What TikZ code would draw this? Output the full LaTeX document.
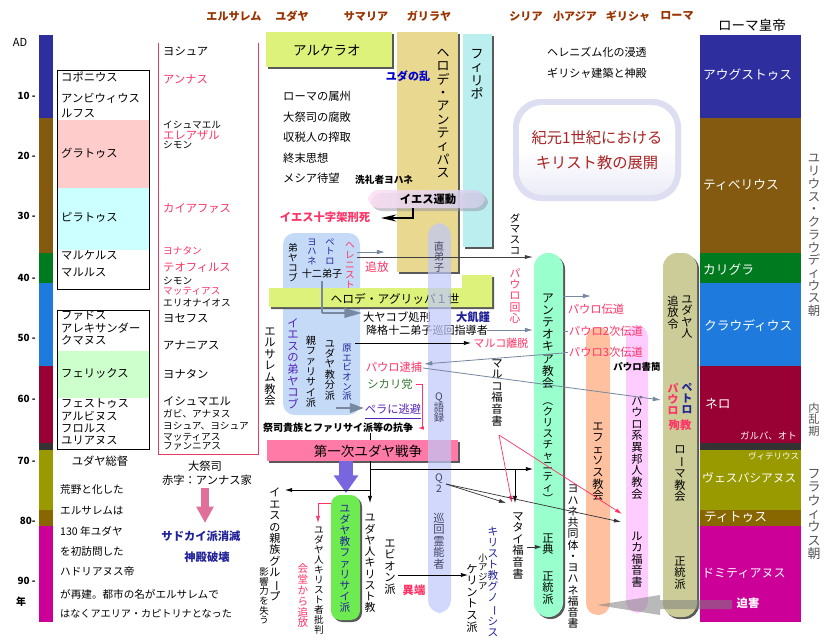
\documentclass[tikz,border=0pt]{standalone}
\usepackage{fontspec}
\setmainfont{Noto Sans CJK JP}
\usepackage{graphicx}
\usetikzlibrary{arrows.meta, shadows}
\definecolor{hdrbrown}{RGB}{153,51,0}
\definecolor{augblue}{RGB}{46,46,158}
\definecolor{tibbrown}{RGB}{131,90,15}
\definecolor{caligreen}{RGB}{0,122,30}
\definecolor{claublue}{RGB}{30,122,220}
\definecolor{nerored}{RGB}{153,0,51}
\definecolor{civilgray}{RGB}{51,51,51}
\definecolor{vespolive}{RGB}{153,153,0}
\definecolor{titbrown}{RGB}{136,102,0}
\definecolor{domimag}{RGB}{204,0,153}
\definecolor{prefpink}{RGB}{255,204,204}
\definecolor{prefcyan}{RGB}{204,255,255}
\definecolor{prefgreen}{RGB}{204,255,204}
\definecolor{priestline}{RGB}{230,60,100}
\definecolor{namered}{RGB}{255,51,102}
\definecolor{limebox}{RGB}{221,242,122}
\definecolor{khakibox}{RGB}{232,216,144}
\definecolor{philcyan}{RGB}{187,238,238}
\definecolor{discblue}{RGB}{196,218,246}
\definecolor{qblue}{RGB}{190,200,250}
\definecolor{antgreen}{RGB}{153,255,204}
\definecolor{ephsalmon}{RGB}{255,192,160}
\definecolor{paulpink}{RGB}{255,204,255}
\definecolor{romekhaki}{RGB}{204,204,153}
\definecolor{pharigreen}{RGB}{110,235,80}
\definecolor{warpink}{RGB}{255,122,166}
\definecolor{warviolet}{RGB}{119,102,221}
\definecolor{navytx}{RGB}{34,34,153}
\definecolor{purpletx}{RGB}{85,34,187}
\definecolor{sicgreen}{RGB}{51,119,51}
\definecolor{qtext}{RGB}{68,68,102}
\definecolor{arrowgray}{RGB}{120,136,160}
\definecolor{titlered}{RGB}{170,34,34}
\definecolor{prarrow}{RGB}{224,112,153}
\definecolor{dyngray}{RGB}{85,85,85}
\definecolor{jmpink}{RGB}{255,224,244}
\definecolor{jmlav}{RGB}{208,208,236}
\definecolor{glowlav}{RGB}{222,222,242}

% vertical (tategaki) text: one character per line
\ExplSyntaxOn
\NewDocumentCommand \tate { m }
  {
    \vbox:n
      {
        \offinterlineskip
        \tl_map_inline:nn {#1}
          { \hbox_to_wd:nn { 1em } { \hss \rule[-.16em]{0pt}{1.03em} ##1 \hss } }
      }
  }
\ExplSyntaxOff
\newcommand\tb{\rotatebox[origin=c]{-90}{ー}}
\newcommand\tlp{\rotatebox[origin=c]{-90}{（}}
\newcommand\trp{\rotatebox[origin=c]{-90}{）}}

\tikzset{
  txt/.style={inner sep=0pt, font=\fontsize{9.6}{11}\selectfont},
  sml/.style={inner sep=0pt, font=\fontsize{8.2}{9.5}\selectfont},
  hdr/.style={inner sep=0pt, text=hdrbrown, font=\fontsize{9.4}{11}\selectfont\bfseries},
  emp/.style={inner sep=0pt, anchor=west, text=white, font=\fontsize{10.8}{12}\selectfont},
  yr/.style={inner sep=0pt, anchor=east, font=\fontsize{8.4}{10}\selectfont\bfseries},
  lft/.style={anchor=west},
  vert/.style={anchor=north},
  pk/.style={text=namered},
  nv/.style={text=navytx},
  shadowed/.style={drop shadow={shadow xshift=1.7pt, shadow yshift=-1.7pt, opacity=1, fill=black!65}},
  arrowg/.style={-{Latex[length=7pt,width=4pt]}, draw=arrowgray, line width=0.7pt},
  arrowk/.style={-{Latex[length=6pt,width=3.5pt]}, draw=black, line width=0.6pt},
  arrowp/.style={-{Latex[length=6pt,width=3.5pt]}, draw=namered, line width=0.6pt},
  blockg/.style={-{Triangle[length=15pt,width=8pt]}, draw=arrowgray, line width=2pt}
}

\begin{document}
\begin{tikzpicture}[x=0.85pt, y=-0.85pt]
  \useasboundingbox (0,0) rectangle (840,641);
  \fill[white] (0,0) rectangle (840,641);

  % region headers
  \node[hdr] (hJer) at (234,16) {エルサレム};
  \node[hdr] (hJud) at (292,16) {ユダヤ};
  \node[hdr] (hSam) at (366,16) {サマリア};
  \node[hdr] (hGal) at (429,16) {ガリラヤ};
  \node[hdr] (hSyr) at (526,16) {シリア};
  \node[hdr] (hAsia) at (575,16) {小アジア};
  \node[hdr] (hGre) at (628,16) {ギリシャ};
  \node[hdr] (hRom) at (677,16) {ローマ};
  \node[inner sep=0pt, font=\fontsize{11.5}{13}\selectfont] (hEmp) at (752,25) {ローマ皇帝};

  % emperor periods (year bar and emperor column)
  \foreach \ya/\yb/\col in {35/118/augblue, 118/253/tibbrown, 253/283/caligreen,
      283/366/claublue, 366/443/nerored, 443/450/civilgray, 450/510/vespolive,
      510/526/titbrown, 526/622/domimag} {
    \fill[\col] (39,\ya) rectangle (53,\yb);
    \fill[\col] (700,\ya) rectangle (801,\yb);
  }
  \node[emp] (eAug) at (703,75) {アウグストゥス};
  \node[emp] (eTib) at (703,185) {ティベリウス};
  \node[emp] (eCal) at (703,270) {カリグラ};
  \node[emp] (eCla) at (704,326) {クラウディウス};
  \node[emp] (eNer) at (705,404) {ネロ};
  \node[emp, font=\fontsize{8}{9}\selectfont] (eGal) at (740,436) {ガルバ、オト};
  \node[emp, font=\fontsize{7.2}{8}\selectfont] (eVit) at (748,456) {ヴィテリウス};
  \node[emp, font=\fontsize{10}{11}\selectfont] (eVes) at (702,478) {ヴェスパシアヌス};
  \node[emp] (eTit) at (704,517) {ティトゥス};
  \node[emp, font=\fontsize{10.2}{11}\selectfont] (eDom) at (702,573) {ドミティアヌス};

  % dynasties
  \node[vert, inner sep=0pt, text=dyngray, font=\fontsize{10.5}{12}\selectfont] (dJul) at (814,152) {\tate{ユリウス・クラウディウス朝}};
  \node[vert, inner sep=0pt, text=dyngray, font=\fontsize{9.6}{11}\selectfont] (dCiv) at (814,402) {\tate{内乱期}};
  \node[vert, inner sep=0pt, text=dyngray, font=\fontsize{11}{12}\selectfont] (dFla) at (814,467) {\tate{フラウィウス朝}};

  % year labels
  \node[yr, anchor=center, font=\fontsize{9.4}{11}\selectfont] (yAD) at (20,42) {AD};
  \foreach \lab/\yy in {10 -/96, 20 -/156, 30 -/216, 40 -/278, 50 -/338, 60 -/399, 70 -/461, 80-/521, 90 -/581} {
    \node[yr] (yr\yy) at (36,\yy) {\lab};
  }
  \node[yr, anchor=center] (yNen) at (21,602) {年};

  % Roman prefects of Judaea
  \fill[prefpink] (57,120) rectangle (149,188);
  \fill[prefcyan] (57,188) rectangle (149,250);
  \draw[thick] (57,70) rectangle (149,289);
  \fill[prefgreen] (57,351) rectangle (149,398);
  \draw[thick] (57,310) rectangle (149,449);
  \node[txt, lft] (pCop) at (61,77) {コポニウス};
  \node[txt, lft] (pAmb) at (61,98) {アンビウィウス};
  \node[txt, lft] (pRuf) at (61,113) {ルフス};
  \node[txt, lft] (pGra) at (61,153) {グラトゥス};
  \node[txt, lft] (pPil) at (61,217) {ピラトゥス};
  \node[txt, lft] (pMarc) at (61,255) {マルケルス};
  \node[txt, lft] (pMarl) at (61,273) {マルルス};
  \node[txt, lft] (pFad) at (61,316) {ファドス};
  \node[txt, lft] (pAle) at (61,328) {アレキサンダー};
  \node[txt, lft] (pCum) at (61,340) {クマヌス};
  \node[txt, lft] (pFel) at (61,373) {フェリックス};
  \node[txt, lft] (pFes) at (61,404) {フェストゥス};
  \node[txt, lft] (pAlb) at (61,416) {アルビヌス};
  \node[txt, lft] (pFlo) at (61,428) {フロルス};
  \node[txt, lft] (pJul) at (61,440) {ユリアヌス};
  \node[txt] (pTitle) at (100,461) {ユダヤ総督};

  % high priests
  \draw[priestline, semithick] (158,43) -- (158,454) -- (258,454) -- (258,43);
  \node[txt, lft] (hp1) at (163,51) {ヨシュア};
  \node[txt, lft, pk] (hp2) at (163,79) {アンナス};
  \node[sml, lft] (hp3) at (163,125) {イシュマエル};
  \node[txt, lft, pk] (hp4) at (163,135) {エレアザル};
  \node[sml, lft] (hp5) at (163,145) {シモン};
  \node[txt, lft, pk] (hp6) at (163,208) {カイアファス};
  \node[sml, lft, pk] (hp7) at (163,251) {ヨナタン};
  \node[txt, lft, pk] (hp8) at (163,268) {テオフィルス};
  \node[sml, lft] (hp9) at (163,281) {シモン};
  \node[sml, lft, pk] (hp10) at (163,291) {マッティアス};
  \node[sml, lft] (hp11) at (163,303) {エリオナイオス};
  \node[txt, lft] (hp12) at (163,318) {ヨセフス};
  \node[txt, lft] (hp13) at (163,345) {アナニアス};
  \node[txt, lft] (hp14) at (163,374) {ヨナタン};
  \node[txt, lft] (hp15) at (163,401) {イシュマエル};
  \node[sml, lft] (hp16) at (163,414) {ガビ、アナヌス};
  \node[sml, lft] (hp17) at (163,426) {ヨシュア、ヨシュア};
  \node[sml, lft] (hp18) at (163,437) {マッティアス};
  \node[sml, lft] (hp19) at (163,446) {ファンニアス};
  \node[txt] (hpTitle) at (205,466) {大祭司};
  \node[txt] (hpNote) at (207,480) {赤字：アンナス家};
  \coordinate (prTop) at (205,488);
  \coordinate (prTip) at (205,523);
  \draw[prarrow, line width=6pt, -{Triangle[length=14pt,width=14pt]}] (prTop) -- (prTip);
  \node[txt, text=navytx, font=\fontsize{9.6}{11}\selectfont\bfseries] (sadd) at (201,536) {サドカイ派消滅};
  \node[txt, text=navytx, font=\fontsize{9.6}{11}\selectfont\bfseries] (temple) at (207,557) {神殿破壊};

  % Aelia Capitolina note
  \node[txt, lft, font=\fontsize{9}{11}\selectfont] (ae1) at (60,489) {荒野と化した};
  \node[txt, lft, font=\fontsize{9}{11}\selectfont] (ae2) at (60,511) {エルサレムは};
  \node[txt, lft, font=\fontsize{9}{11}\selectfont] (ae3) at (60,531) {130 年ユダヤ};
  \node[txt, lft, font=\fontsize{9}{11}\selectfont] (ae4) at (60,551) {を初訪問した};
  \node[txt, lft, font=\fontsize{9}{11}\selectfont] (ae5) at (60,571) {ハドリアヌス帝};
  \node[txt, lft, font=\fontsize{9}{11}\selectfont] (ae6) at (60,594) {が再建。都市の名がエルサレムで};
  \node[txt, lft, font=\fontsize{8.6}{11}\selectfont] (ae7) at (60,614) {はなくアエリア・カピトリナとなった};

  % rulers of Palestine
  \fill[limebox, shadowed] (266,32) rectangle (392,67);
  \node[txt, font=\fontsize{11.5}{13}\selectfont] (archel) at (327,50) {アルケラオ};
  \fill[khakibox, shadowed] (397,32) rectangle (458,272);
  \node[vert, txt, font=\fontsize{11}{12}\selectfont] (antipas) at (443,46) {\tate{ヘロデ・アンティパス}};
  \fill[philcyan, shadowed] (463,34) rectangle (492,247);
  \node[vert, txt, font=\fontsize{11}{12}\selectfont] (philip) at (477,47) {\tate{フィリポ}};
  \node[txt, text=blue!80!black, font=\fontsize{9.4}{11}\selectfont\bfseries] (judas) at (408,76) {ユダの乱};

  % background of Jesus' time
  \node[txt, lft] (bg1) at (283,96) {ローマの属州};
  \node[txt, lft] (bg2) at (283,117) {大祭司の腐敗};
  \node[txt, lft] (bg3) at (283,137) {収税人の搾取};
  \node[txt, lft] (bg4) at (283,158) {終末思想};
  \node[txt, lft] (bg5) at (283,178) {メシア待望};
  \node[sml, lft, font=\fontsize{8.2}{9.5}\selectfont\bfseries] (baptist) at (355,180) {洗礼者ヨハネ};

  % Jesus movement
  \fill[jmlav!70!black, opacity=0.5, rounded corners=9] (371,193) rectangle (488,211);
  \shade[left color=jmpink, right color=jmlav, rounded corners=9, opacity=0.85] (368,190) rectangle (485,208);
  \node[txt, font=\fontsize{9.6}{11}\selectfont\bfseries] (jmove) at (428,199) {イエス運動};
  \node[txt, pk, font=\fontsize{9.6}{11}\selectfont\bfseries] (cross) at (325,217) {イエス十字架刑死};
  \coordinate (jmBot) at (413,208);
  \coordinate (crossEnd) at (381,218);
  \draw[line width=1.3pt, -{Stealth[length=13pt,width=6pt]}] (jmBot) |- (crossEnd);

  % disciples
  \fill[discblue, rounded corners=10] (283,233) rectangle (360,415);
  \node[vert, sml] (dJames) at (293,243) {\tate{弟ヤコブ}};
  \node[vert, sml, nv, font=\fontsize{7.8}{9}\selectfont] (dJohn) at (312,237) {\tate{ヨハネ}};
  \node[vert, sml, nv, font=\fontsize{7.8}{9}\selectfont] (dPeter) at (330,237) {\tate{ペトロ}};
  \node[vert, sml, pk] (dHell) at (350,240) {\tate{ヘレニスト}};
  \node[sml, font=\fontsize{8.6}{10}\selectfont] (dTwelve) at (322,274) {十二弟子};
  \node[vert, txt, text=purpletx] (jBro) at (293,317) {\tate{イエスの弟ヤコブ}};
  \node[vert, sml, font=\fontsize{8.6}{10}\selectfont] (proPh) at (311,335) {\tate{親ファリサイ派}};
  \node[vert, sml, font=\fontsize{8.6}{10}\selectfont] (jSect) at (330,338) {\tate{ユダヤ教分派}};
  \node[vert, sml, nv, font=\fontsize{8}{9}\selectfont] (protoEb) at (347,343) {\tate{原エビオン派}};
  \node[vert, txt] (jChurch) at (270,325) {\tate{エルサレム教会}};

  % Herod Agrippa I
  \fill[limebox, shadowed] (269,288) -- (462,288) -- (462,275) -- (492,275) -- (492,307) -- (269,307) -- cycle;
  \node[txt, font=\fontsize{10}{11}\selectfont] (agrippa) at (395,299) {ヘロデ・アグリッパ１世};

  % Jerusalem events
  \node[txt, pk, font=\fontsize{10}{11}\selectfont] (expel) at (377,267) {追放};
  \node[vert, sml, font=\fontsize{8.8}{10}\selectfont] (damas) at (515,213) {\tate{ダマスコ}};
  \node[vert, sml, pk, font=\fontsize{9.2}{10}\selectfont] (conv) at (515,268) {\tate{パウロ回心}};
  \node[txt] (jExec) at (397,317) {大ヤコブ処刑};
  \node[txt, nv, font=\fontsize{9.6}{11}\selectfont\bfseries] (famine) at (473,317) {大飢饉};
  \node[txt, font=\fontsize{9.4}{11}\selectfont] (demoted) at (427,330) {降格十二弟子巡回指導者};
  \node[txt, pk, font=\fontsize{9.4}{11}\selectfont] (markLeave) at (501,343) {マルコ離脱};
  \node[vert, txt] (markGos) at (497,357) {\tate{マルコ福音書}};
  \node[txt, pk] (paulArrest) at (394,367) {パウロ逮捕};
  \node[txt, text=sicgreen] (sicarii) at (390,384) {シカリ党};
  \node[txt, text=purpletx] (pella) at (393,409) {ペラに逃避};
  \draw[purpletx, semithick] (pella.south west) ++(0,4) -- ++(56,0);
  \node[sml, font=\fontsize{8.5}{10}\selectfont\bfseries] (strife) at (338,428) {祭司貴族とファリサイ派等の抗争};

  % First Jewish War
  \fill[warpink, shadowed] (267,440) rectangle (458,461);
  \node[txt, font=\fontsize{11.5}{13}\selectfont] (war) at (368,451) {第一次ユダヤ戦争};
  \coordinate (wvTop) at (346,461);
  \coordinate (wvTip) at (346,493);
  \draw[warviolet, line width=12pt, -{Triangle[length=15pt,width=20pt]}] (wvTop) -- (wvTip);

  % after the war
  \fill[pharigreen, rounded corners=8, shadowed] (331,495) rectangle (360,620);
  \node[vert, txt, nv, font=\fontsize{9.1}{10}\selectfont] (pharis) at (345,503) {\tate{ユダヤ教ファリサイ派}};
  \node[vert, sml] (critic) at (319,525) {\tate{ユダヤ人キリスト者批判}};
  \node[vert, txt, pk, font=\fontsize{9}{10}\selectfont] (synag) at (303,563) {\tate{会堂から追放}};
  \node[vert, txt, font=\fontsize{9.4}{11}\selectfont] (family) at (275,487) {\tate{イエスの親族グル\tb プ}};
  \node[vert, sml, font=\fontsize{8}{9}\selectfont] (lost) at (264,567) {\tate{影響力を失う}};
  \node[vert, txt, font=\fontsize{9.3}{10}\selectfont] (jewChr) at (370,512) {\tate{ユダヤ人キリスト教}};
  \node[vert, txt] (ebion) at (390,537) {\tate{エビオン派}};
  \node[txt, pk, font=\fontsize{9.6}{11}\selectfont\bfseries] (heresy) at (414,590) {異端};
  \node[vert, txt] (cerinth) at (472,563) {\tate{ケリントス派}};
  \node[vert, sml, font=\fontsize{7.8}{9}\selectfont] (asia) at (483,553) {\tate{小アジア}};
  \node[vert, txt, nv, font=\fontsize{9.1}{10}\selectfont] (gnosis) at (493,526) {\tate{キリスト教グノ\tb シス}};
  \node[vert, txt] (mattGos) at (518,510) {\tate{マタイ福音書}};

  % Hellenistic world
  \node[txt, font=\fontsize{9.4}{11}\selectfont] (hel1) at (597,52) {ヘレニズム化の浸透};
  \node[txt, font=\fontsize{9.4}{11}\selectfont] (hel2) at (597,73) {ギリシャ建築と神殿};

  % title
  \fill[glowlav, rounded corners=24] (513,99) rectangle (681,201);
  \shade[rounded corners=20, top color=white, bottom color=glowlav!60, middle color=white] (519,105) rectangle (675,195);
  \node[inner sep=0pt, text=titlered, font=\fontsize{13}{15}\selectfont] (title1) at (597,138) {紀元1世紀における};
  \node[inner sep=0pt, text=titlered, font=\fontsize{13}{15}\selectfont] (title2) at (597,163) {キリスト教の展開};

  % churches
  \fill[antgreen, rounded corners=12, shadowed] (534,253) rectangle (563,617);
  \node[vert, txt, font=\fontsize{10}{11}\selectfont] (antioch) at (548,292) {\tate{アンテオキア教会}};
  \node[vert, txt, font=\fontsize{9}{10}\selectfont] (christ) at (548,395) {\tate{\tlp クリスチャニティ\trp}};
  \node[vert, txt] (canon) at (548,532) {\tate{正典}};
  \node[vert, txt] (orth1) at (548,570) {\tate{正統派}};
  \fill[ephsalmon, rounded corners=10] (586,327) rectangle (610,615);
  \node[vert, txt] (ephesus) at (598,420) {\tate{エフェソス教会}};
  \fill[paulpink, rounded corners=10] (626,325) rectangle (648,613);
  \node[vert, txt] (gentile) at (637,395) {\tate{パウロ系異邦人教会}};
  \node[vert, txt] (lukeGos) at (637,530) {\tate{ルカ福音書}};
  \node[sml, font=\fontsize{8}{9}\selectfont\bfseries] (letters) at (637,367) {パウロ書簡};
  \node[vert, txt, font=\fontsize{9.3}{10}\selectfont] (johnGos) at (573,483) {\tate{ヨハネ共同体・ヨハネ福音書}};
  \fill[romekhaki, rounded corners=12, shadowed] (663,253) rectangle (697,617);
  \node[vert, txt] (rJews) at (687,293) {\tate{ユダヤ人}};
  \node[vert, txt] (rEdict) at (673,295) {\tate{追放令}};
  \node[vert, txt, pk, font=\fontsize{9.2}{10}\selectfont\bfseries] (rPaul) at (673,383) {\tate{パウロ}};
  \node[vert, txt, nv, font=\fontsize{9.2}{10}\selectfont\bfseries] (rPeter) at (687,382) {\tate{ペトロ}};
  \node[txt, pk, font=\fontsize{9.6}{11}\selectfont\bfseries] (martyr) at (680,425) {殉教};
  \node[vert, txt] (rChurch) at (680,443) {\tate{ロ\tb マ教会}};
  \node[vert, txt] (orth2) at (680,555) {\tate{正統派}};
  \node[txt, pk] (mis1) at (596,309) {パウロ伝道};
  \node[txt, pk] (mis2) at (606,331) {パウロ2次伝道};
  \node[txt, pk] (mis3) at (606,352) {パウロ3次伝道};

  % Q source column
  \fill[qblue, opacity=0.7, rounded corners=11] (428,223) rectangle (451,613);
  \node[vert, sml, text=qtext, font=\fontsize{8.8}{10}\selectfont] (qDisc) at (439,241) {\tate{直弟子}};
  \node[vert, sml, text=qtext, font=\fontsize{8.8}{10}\selectfont] (qSay) at (439,391) {\tate{Q語録}};
  \node[vert, sml, text=qtext, font=\fontsize{8.8}{10}\selectfont] (qTwo) at (439,472) {\tate{Q2}};
  \node[vert, txt, text=qtext] (qProph) at (439,512) {\tate{巡回霊能者}};

  % connectors
  \coordinate (hellA) at (357,252);
  \coordinate (hellB) at (385,252);
  \coordinate (hellC) at (357,257);
  \coordinate (antTop) at (533,257);
  \draw[arrowg] (hellA) -- (hellB);
  \draw[-{Latex[length=7pt,width=3.5pt]}, draw=black!75, line width=0.6pt] (hellC) -- (antTop);
  \coordinate (twelveBot) at (322,281);
  \coordinate (execEnd) at (362,313);
  \draw[arrowgray, line width=1pt] (twelveBot) -- (twelveBot |- execEnd);
  \draw[blockg] (twelveBot |- execEnd) -- (execEnd);
  \coordinate (demEnd) at (487,330);
  \coordinate (antDem) at (533,330);
  \draw[arrowg] (demEnd) -- (antDem);
  \coordinate (ebTop) at (355,343);
  \coordinate (markEnd) at (471,343);
  \draw[arrowk] (ebTop) -- (markEnd);
  \coordinate (antBack) at (563,353);
  \coordinate (arrestIn) at (424,364);
  \draw[arrowg] (antBack) -- (arrestIn);
  \coordinate (arrestOut) at (423,368);
  \coordinate (romeIn) at (661,400);
  \draw[arrowg] (arrestOut) -- (romeIn);
  \coordinate (antMis) at (563,296);
  \coordinate (misEnd) at (591,296);
  \draw[arrowg] (antMis) -- (misEnd);
  \draw[arrowgray, line width=0.7pt] (563,331) -- (568,331) (563,352) -- (568,352);
  \draw[namered, line width=0.6pt, -{Latex[length=5pt,width=3pt]}] (sicarii.east) ++(3,0) -- ++(7,0) |- ([xshift=4pt]strife.east);
  \coordinate (pellaFrom) at (336,408);
  \coordinate (pellaTo) at (364,408);
  \draw[blockg, -{Triangle[length=12pt,width=8pt]}] (pellaFrom) -- (pellaTo);
  \coordinate (strBot) at (370,433);
  \coordinate (warTop) at (370,440);
  \draw[line width=0.6pt] (strBot) -- (warTop);
  \coordinate (warFoot) at (370,461);
  \coordinate (jcTop) at (370,503);
  \coordinate (warRight) at (533,469);
  \coordinate (mattFrom) at (515,469);
  \coordinate (mattTop) at (515,503);
  \coordinate (famEnd) at (285,490);
  \draw[arrowk] (warFoot) -- (jcTop);
  \draw[arrowk] (warFoot |- warRight) -- (warRight);
  \draw[arrowk] (mattFrom) -- (mattTop);
  \draw[arrowk] (warFoot |- famEnd) -- (famEnd);
  \coordinate (markBot) at (499,435);
  \coordinate (mattPk) at (512,503);
  \coordinate (lukePk) at (622,514);
  \draw[arrowp] (markBot) -- (mattPk);
  \draw[arrowp] (markBot) -- (lukePk);
  \coordinate (qFrom) at (446,484);
  \coordinate (mattQ) at (506,503);
  \coordinate (lukeQ) at (621,522);
  \draw[arrowk, draw=black!80] (qFrom) -- (mattQ);
  \draw[arrowk, draw=black!80] (qFrom) -- (lukeQ);
  \coordinate (mattOut) at (527,547);
  \coordinate (canonIn) at (542,547);
  \draw[arrowk, draw=black!80] (mattOut) -- (canonIn);
  \coordinate (phL) at (331,503);
  \coordinate (critTop) at (318,523);
  \draw[arrowp] (phL) -| (critTop);
  \coordinate (ebOut) at (398,575);
  \coordinate (cerIn) at (468,575);
  \draw[arrowk] (ebOut) -- (cerIn);

  % persecution
  \fill[black!50, opacity=0.55] (732,600) -- (660,600) -- (660,595) -- (597,605) -- (660,615) -- (660,609) -- (732,609) -- cycle;
  \node[txt, text=white, font=\fontsize{9.6}{11}\selectfont\bfseries] (perse) at (748,603) {迫害};
\end{tikzpicture}
\end{document}
